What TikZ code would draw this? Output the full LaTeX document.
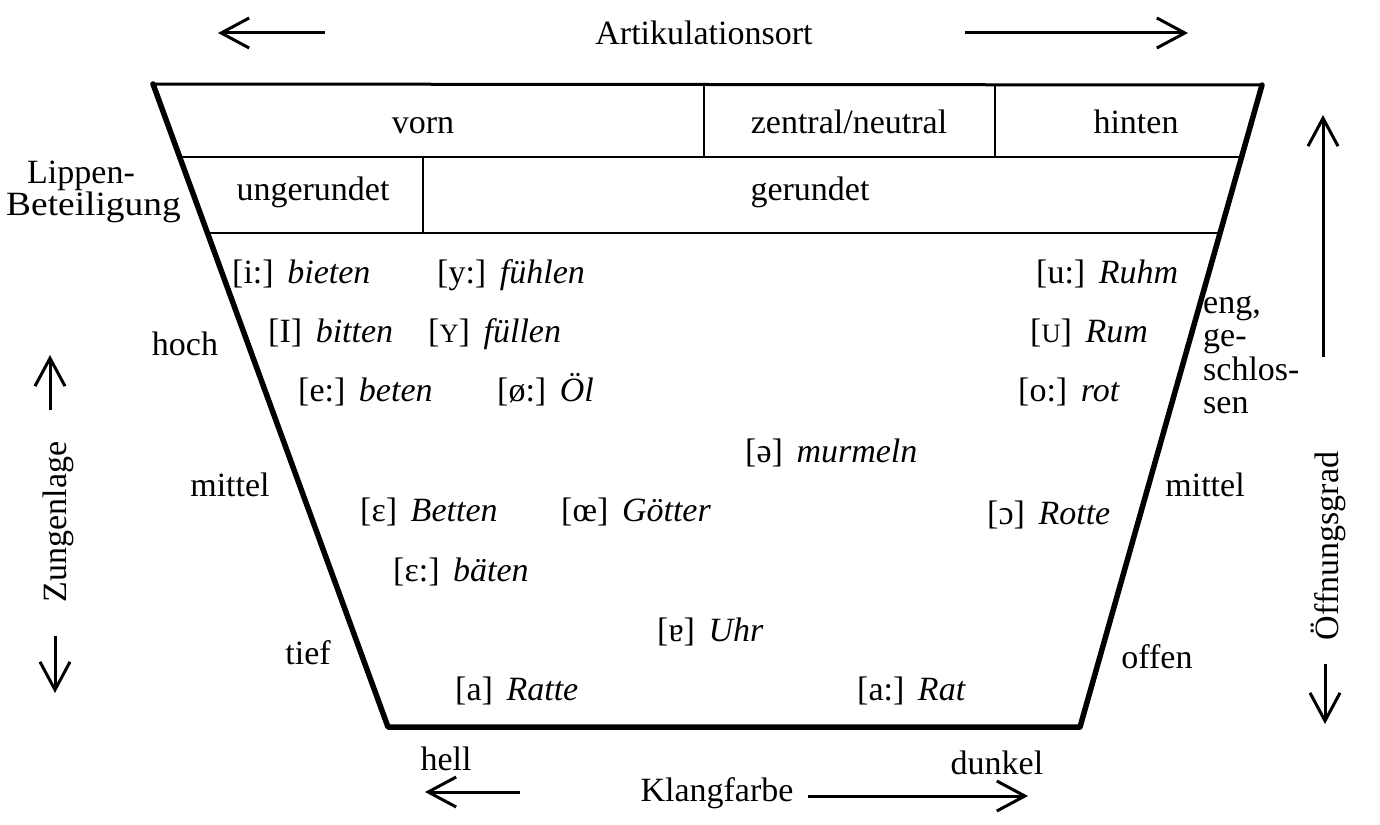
\documentclass[tikz,border=0pt]{standalone}
\usepackage{fontspec}
\setmainfont{Liberation Serif}
\usetikzlibrary{arrows.meta}
\newcommand\smcap[1]{\scalebox{0.78}{#1}}
\newcommand\vw[2]{[#1]\hspace{0.4em}\textit{#2}}
\begin{document}
\begin{tikzpicture}[x=1pt,y=-1pt,
  every node/.style={inner sep=0pt, font=\fontsize{34}{40}\selectfont},
  lbl/.style={anchor=base},
  lw/.style={anchor=base west},
  side/.style={line width=5.5pt, line cap=round, line join=round},
  hline/.style={line width=2.5pt},
  axis/.style={line width=3pt, -{Straight Barb[length=28pt,width=30pt,line width=3pt]}},
]
\useasboundingbox (0,0) rectangle (1380,824);
% trapezoid
\coordinate (TL) at (153,84);
\coordinate (TR) at (1262,85);
\coordinate (BL) at (388,727);
\coordinate (BR) at (1080,727);
\coordinate (H1L) at (179.7,157);
\coordinate (H1R) at (1241.6,157);
\coordinate (H2L) at (207.5,233);
\coordinate (H2R) at (1220,233);
\draw[side] (TL) -- (BL) -- (BR) -- (TR);
\draw[line width=3pt] (TL) -- (TR);
\draw[hline] (H1L) -- (H1R);
\draw[hline] (H2L) -- (H2R);
\coordinate (D1t) at (704,84);  \coordinate (D1b) at (704,157);
\coordinate (D2t) at (995,84);  \coordinate (D2b) at (995,157);
\coordinate (D3t) at (423,157); \coordinate (D3b) at (423,233);
\draw[hline] (D1t) -- (D1b);
\draw[hline] (D2t) -- (D2b);
\draw[hline] (D3t) -- (D3b);
% header
\node[lbl] (art) at (704,45) {Artikulationsort};
\coordinate (a1s) at (325,33); \coordinate (a1e) at (218,33);
\coordinate (a2s) at (965,33); \coordinate (a2e) at (1188,33);
\draw[axis] (a1s) -- (a1e);
\draw[axis] (a2s) -- (a2e);
\node[lbl] (vorn) at (423,133) {vorn};
\node[lbl] (zent) at (849,133) {zentral/neutral};
\node[lbl] (hint) at (1136,133) {hinten};
\node[lbl] (ung) at (313,200) {ungerundet};
\node[lbl] (ger) at (810,200) {gerundet};
\node[lw] (lip1) at (27,183) {Lippen-};
\node[lw] (lip2) at (6,215) {\scalebox{1.1}[1]{Beteiligung}};
% left side
\node[lbl] (hoch) at (185,355) {hoch};
\node[lbl] (mitL) at (230,496) {mittel};
\node[lbl] (tief) at (308,664) {tief};
\node[rotate=90] (zung) at (58,522) {Zungenlage};
\coordinate (z1s) at (50,410); \coordinate (z1e) at (50,355);
\coordinate (z2s) at (55,636); \coordinate (z2e) at (55,693);
\draw[axis] (z1s) -- (z1e);
\draw[axis] (z2s) -- (z2e);
% right side
\node[lw] (eng1) at (1203,313) {eng,};
\node[lw] (eng2) at (1203,346) {ge-};
\node[lw] (eng3) at (1203,380) {schlos-};
\node[lw] (eng4) at (1203,413) {sen};
\node[lbl] (mitR) at (1205,496) {mittel};
\node[lbl] (off) at (1157,668) {offen};
\node[rotate=90] (oeff) at (1328,546) {Öffnungsgrad};
\coordinate (o1s) at (1323,357); \coordinate (o1e) at (1323,115);
\coordinate (o2s) at (1325,664); \coordinate (o2e) at (1325,724);
\draw[axis] (o1s) -- (o1e);
\draw[axis] (o2s) -- (o2e);
% bottom
\node[lbl] (hell) at (446,770) {hell};
\node[lbl] (dunk) at (997,774) {dunkel};
\node[lbl] (klang) at (717,801) {Klangfarbe};
\coordinate (k1s) at (520,792); \coordinate (k1e) at (425,792);
\coordinate (k2s) at (808,796); \coordinate (k2e) at (1028,796);
\draw[axis] (k1s) -- (k1e);
\draw[axis] (k2s) -- (k2e);
% vowels
\node[lw] (v1) at (232,283) {\vw{i:}{bieten}};
\node[lw] (v2) at (437,283) {\vw{y:}{fühlen}};
\node[lw] (v3) at (1036,283) {\vw{u:}{Ruhm}};
\node[lw] (v4) at (268,342) {\vw{I}{bitten}};
\node[lw] (v5) at (428,342) {\vw{\smcap{Y}}{füllen}};
\node[lw] (v6) at (1030,342) {\vw{\smcap{U}}{Rum}};
\node[lw] (v7) at (298,401) {\vw{e:}{beten}};
\node[lw] (v8) at (497,401) {\vw{ø:}{Öl}};
\node[lw] (v9) at (1018,401) {\vw{o:}{rot}};
\node[lw] (v10) at (745,462) {\vw{ə}{murmeln}};
\node[lw] (v11) at (360,521) {\vw{ɛ}{Betten}};
\node[lw] (v12) at (561,521) {\vw{œ}{Götter}};
\node[lw] (v13) at (987,524) {\vw{ɔ}{Rotte}};
\node[lw] (v14) at (393,581) {\vw{ɛ:}{bäten}};
\node[lw] (v15) at (657,641) {\vw{ɐ}{Uhr}};
\node[lw] (v16) at (455,700) {\vw{a}{Ratte}};
\node[lw] (v17) at (857,700) {\vw{a:}{Rat}};
\end{tikzpicture}
\end{document}
